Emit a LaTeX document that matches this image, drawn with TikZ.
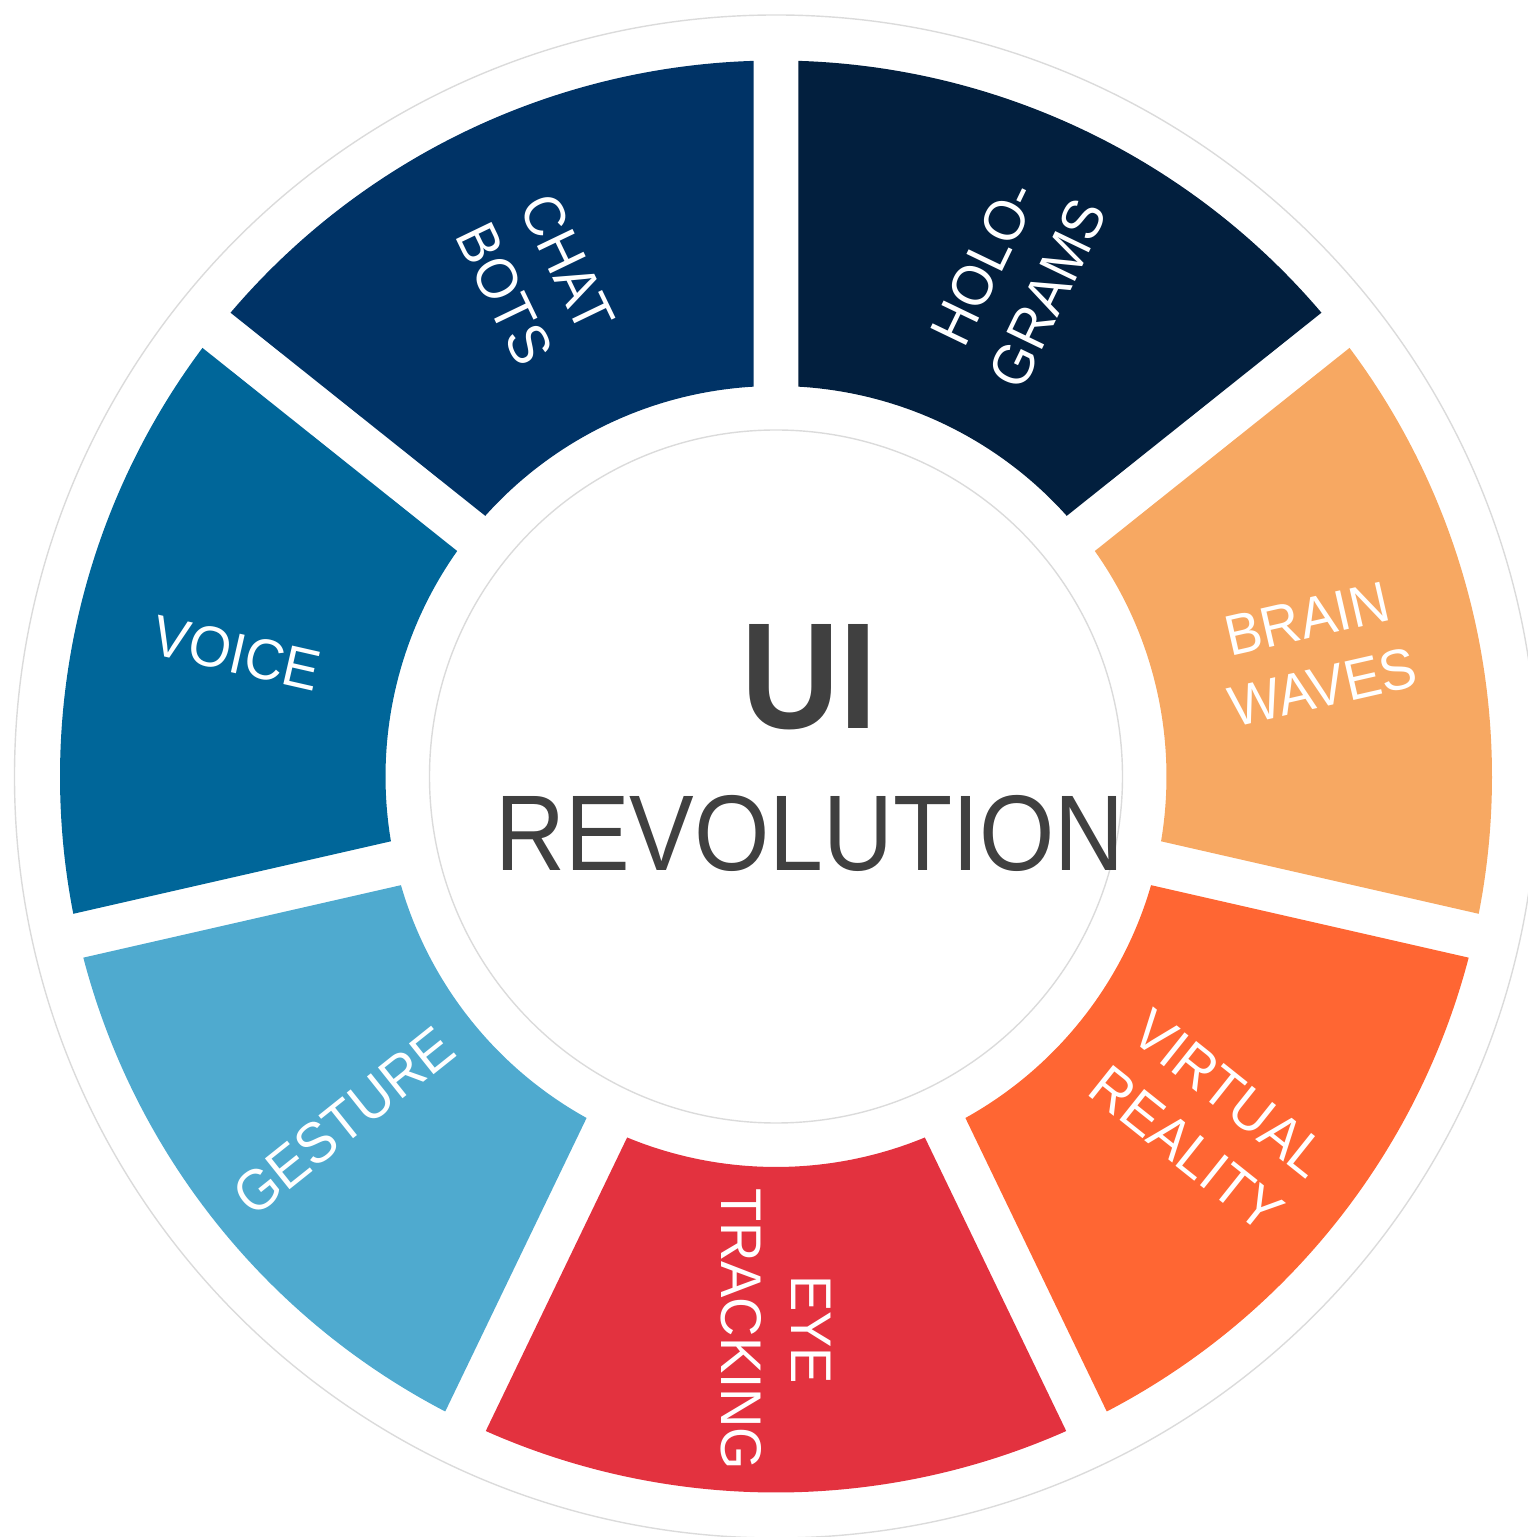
\documentclass[tikz,border=0pt]{standalone}
\usepackage{fontspec}
\usepackage{tikz}
\newfontfamily\segfont[FakeStretch=0.95]{Liberation Sans}
\newfontfamily\hubfont[FakeStretch=0.9]{Liberation Sans}
\definecolor{chatblue}{HTML}{003366}
\definecolor{holonavy}{HTML}{021F3E}
\definecolor{brainorange}{HTML}{F7A862}
\definecolor{vrorange}{HTML}{FF6633}
\definecolor{eyered}{HTML}{E3323F}
\definecolor{gesturecyan}{HTML}{4FAACF}
\definecolor{voiceblue}{HTML}{006699}
\definecolor{hubgray}{HTML}{404040}
\tikzset{
    ringline/.style={draw=black!14,line width=0.4pt},
    seglabel/.style={text=white,align=center,inner sep=0pt,
                     font=\segfont\fontsize{16.3}{20}\selectfont},
    hub/.style={text=hubgray,inner sep=0pt}
}

\begin{document}
\begin{tikzpicture}[x=0.01cm,y=0.01cm]
    \useasboundingbox (-776,-760.5) rectangle (751,776.5);
    \draw[ringline] (0,0) circle[radius=761.5];
    \pgfmathsetmacro{\dout}{asin(22.5/716)}
    \pgfmathsetmacro{\din}{asin(22.5/390.5)}
    \foreach \c/\col/\name/\rot/\txt in {115.714/chatblue/chat/-64.286/{CHAT\\BOTS},
        64.286/holonavy/holo/64.286/{HOLO-\\GRAMS},
        12.857/brainorange/brain/12.857/{BRAIN\\WAVES},
        -38.571/vrorange/vr/-38.571/{VIRTUAL\\REALITY},
        -90/eyered/eye/-90/{EYE\\TRACKING},
        -141.429/gesturecyan/gesture/38.571/{GESTURE},
        167.143/voiceblue/voice/-12.857/{VOICE}}
    {
        \fill[\col] (\c-25.714+\dout:716)
            arc[start angle=\c-25.714+\dout, end angle=\c+25.714-\dout, radius=716]
            -- (\c+25.714-\din:390.5)
            arc[start angle=\c+25.714-\din, end angle=\c-25.714+\din, radius=390.5]
            -- cycle;
        \node[seglabel,rotate=\rot] (\name) at (\c:553) {\txt};
    }
    \draw[ringline] (0,0) circle[radius=346.5];
    \node[hub,font=\hubfont\fontsize{43}{50}\selectfont\bfseries] (ui) at (33.5,99) {UI};
    \node[hub,font=\hubfont\fontsize{30.6}{36}\selectfont] (revolution) at (34,-57) {REVOLUTION};
\end{tikzpicture}
\end{document}
